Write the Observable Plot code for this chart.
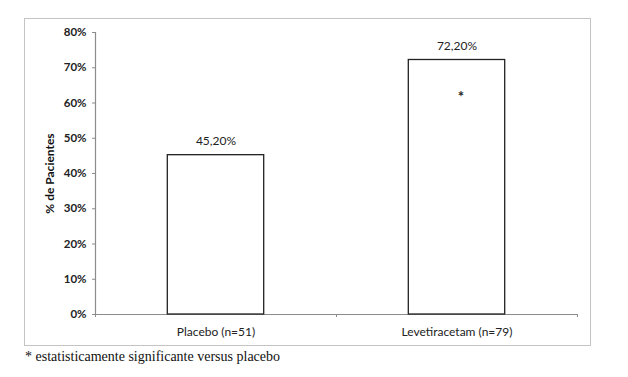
<!DOCTYPE html>
<html>
<head>
<meta charset="utf-8">
<script src="https://cdn.jsdelivr.net/npm/d3@7"></script>
<script src="https://cdn.jsdelivr.net/npm/@observablehq/plot@0.6"></script>
<style>
  html, body { margin: 0; padding: 0; background: #fff; }
  #wrap { position: relative; width: 628px; height: 377px; overflow: hidden; }
  #frame { position: absolute; left: 24px; top: 18px; width: 567px; height: 328px; border: 1px solid #c4c4c4; box-sizing: border-box; }
  #chart { position: absolute; left: 0; top: 0; }
  #note { position: absolute; left: 25px; top: 349px; font-family: "Liberation Serif", "DejaVu Serif", serif; font-size: 14px; color: #111; white-space: nowrap; }
</style>
</head>
<body>
<div id="wrap">
  <div id="frame"></div>
  <div id="chart"></div>
  <div id="note">* estatisticamente significante versus placebo</div>
</div>
<script>
const categories = ["Placebo (n=51)", "Levetiracetam (n=79)"];
const values = [45.2, 72.2];
const valueLabels = ["45,20%", "72,20%"];
const significance = ["", "*"];
const yTicks = [0, 10, 20, 30, 40, 50, 60, 70, 80];
const yTitle = "% de Pacientes";

const data = categories.map((c, i) => ({i, category: c, value: values[i], label: valueLabels[i], sig: significance[i]}));
const font = "Lato, 'Open Sans', sans-serif";

const chart = Plot.plot({
  width: 628,
  height: 377,
  marginTop: 32,
  marginBottom: 63,
  marginLeft: 95,
  marginRight: 51,
  style: {fontFamily: font, background: "transparent", overflow: "visible"},
  x: {domain: [0, categories.length], axis: null},
  y: {domain: [0, 80], axis: null},
  marks: [
    Plot.ruleY([0], {stroke: "#8c8c8c", strokeWidth: 1.2}),
    Plot.ruleX([0], {stroke: "#8c8c8c", strokeWidth: 1.2, y1: 0, y2: 80}),
    Plot.axisY({ticks: yTicks, tickFormat: d => d + "%", label: null, tickSize: 3, tickPadding: 6, stroke: "#8c8c8c", fill: "#222", fontSize: 11.5, fontWeight: "bold"}),
    Plot.axisX({ticks: d3.range(categories.length + 1), tickFormat: () => "", label: null, tickSize: 3, stroke: "#8c8c8c"}),
    Plot.rectY(data, {x1: d => d.i + 0.3, x2: d => d.i + 0.7, y: "value", fill: "white", stroke: "#222", strokeWidth: 1.3}),
    Plot.text(data, {x: d => d.i + 0.5, y: "value", text: "label", dy: -14, fontSize: 12, fill: "#222"}),
    Plot.text(data, {x: d => d.i + 0.5, y: "value", text: "sig", dy: 37, dx: 4, fontSize: 15, fontWeight: "bold", fill: "#222"}),
    Plot.text(data, {x: d => d.i + 0.5, y: 0, text: "category", dy: 18, fontSize: 12, fill: "#222"}),
    Plot.text([yTitle], {frameAnchor: "left", textAnchor: "middle", rotate: -90, dx: -45, fontSize: 12, fontWeight: "bold", fill: "#111"})
  ]
});
document.getElementById("chart").appendChild(chart);
</script>
</body>
</html>
